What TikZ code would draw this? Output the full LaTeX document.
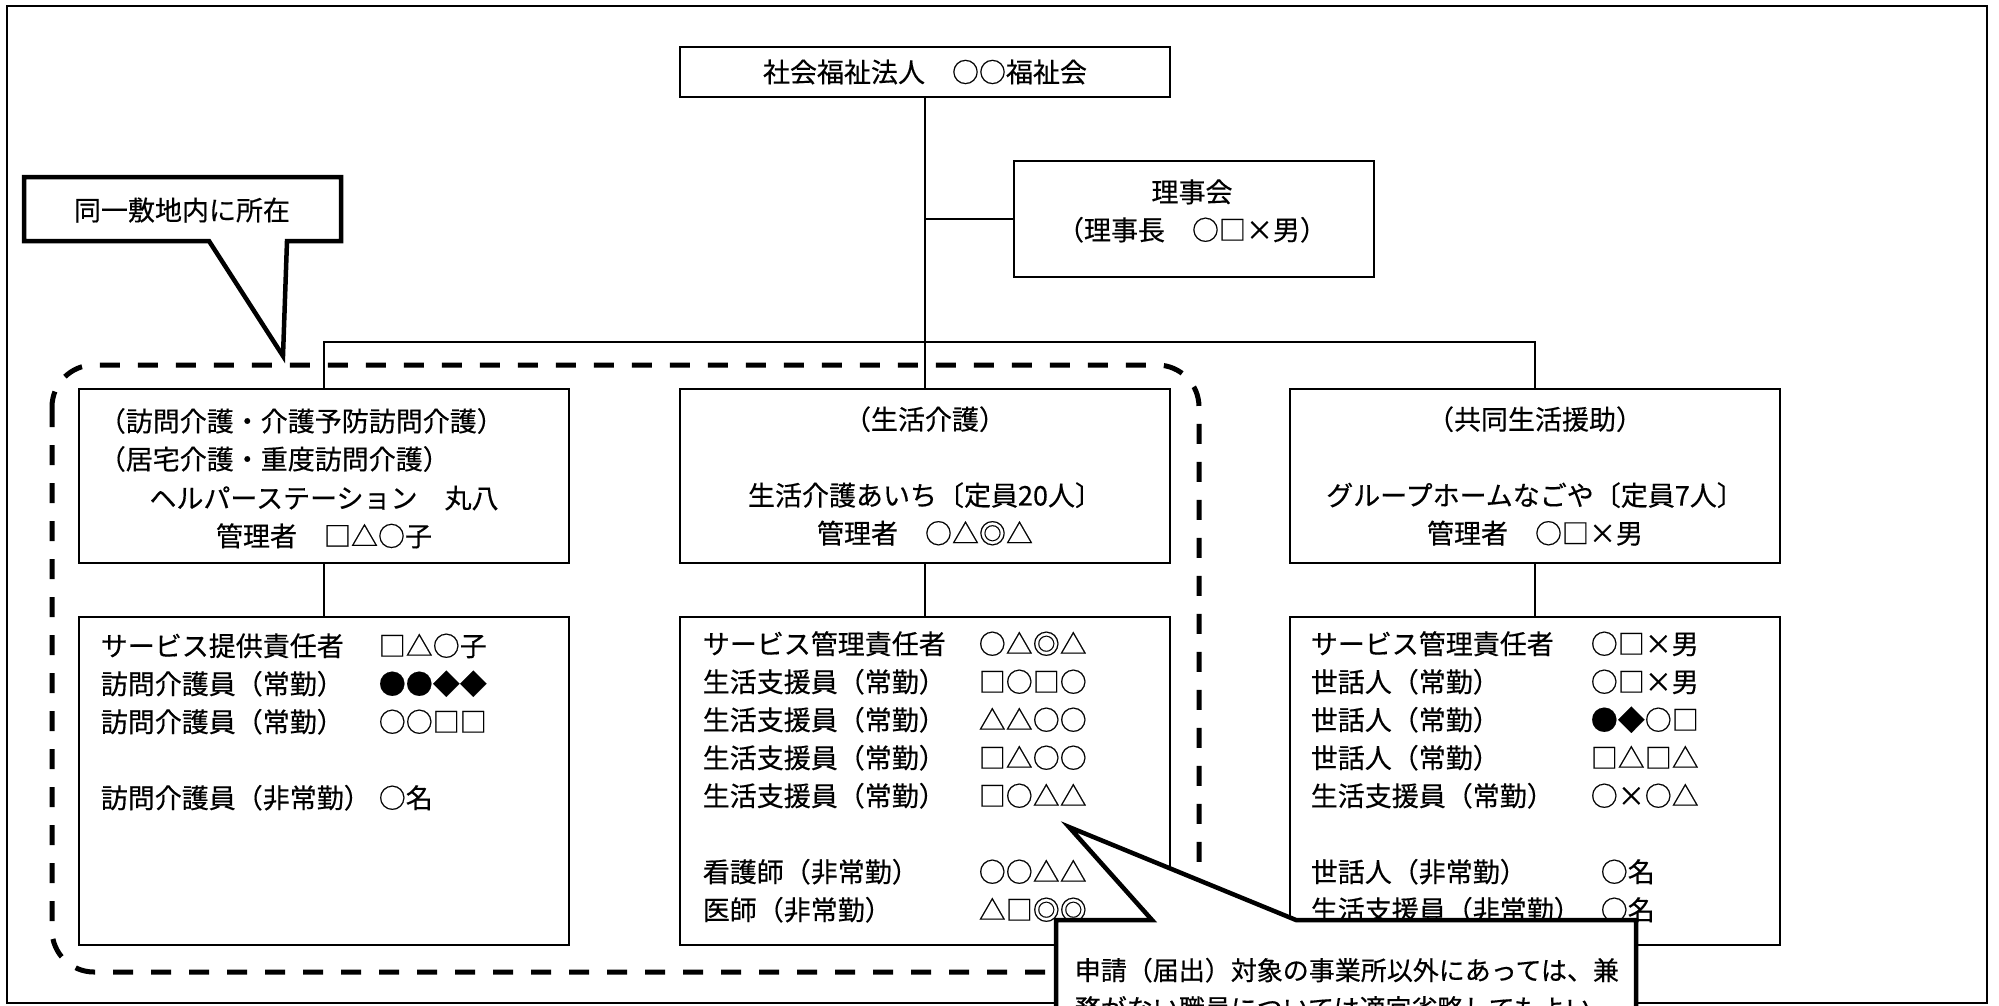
\documentclass[tikz,border=0pt]{standalone}
\usepackage{fontspec}
\setmainfont{Noto Sans CJK JP}[FakeBold=0.4]

\begin{document}
\begin{tikzpicture}[x=1pt, y=-1pt, line width=1.6pt,
	box/.style={rectangle, draw, minimum width=490pt, inner sep=0pt},
	txt/.style={inner sep=0pt, align=center, font=\fontsize{27}{38}\selectfont},
	list/.style={inner sep=0pt, anchor=base west, font=\fontsize{27}{38}\selectfont},
	site/.style={line width=5pt, dash pattern=on 20pt off 18pt, rounded corners=42pt},
	note/.style={draw, line width=4.5pt, fill=white, line join=miter}]
	\useasboundingbox (0,0) rectangle (1999,1005);
	\clip (0,0) rectangle (1999,1005);
	\fill[white] (0,0) rectangle (1999,1005);
	\draw[line width=2.5pt] (7,6) rectangle (1987,1003);

	\draw[site] (52,365) rectangle (1199,972);

	\node[box, minimum height=50pt, txt] at (925,72) (corp) {社会福祉法人　○○福祉会};
	\node[box, minimum width=360pt, minimum height=116pt] at (1194,219) (board) {};
	\node[txt] at (1192,211) (boardtext) {理事会\\（理事長　○□×男）};

	\node[box, minimum height=174pt] at (324,476) (hbox) {};
	\node[box, minimum height=174pt] at (925,476) (lbox) {};
	\node[box, minimum height=174pt] at (1535,476) (gbox) {};
	\node[box, minimum height=328pt] at (324,781) (hstaff) {};
	\node[box, minimum height=328pt] at (925,781) (lstaff) {};
	\node[box, minimum height=328pt] at (1535,781) (gstaff) {};

	\draw (corp) -- (lbox);
	\draw (board) -- (board -| corp);
	\draw (hbox.north) -- ++(0,-46) -| (gbox.north);
	\draw (hbox) -- (hstaff);
	\draw (lbox) -- (lstaff);
	\draw (gbox) -- (gstaff);

	\node[txt, align=left, anchor=west] at (98,440) (hkind) {（訪問介護・介護予防訪問介護）\\（居宅介護・重度訪問介護）};
	\node[txt] at (324,517) (hname) {ヘルパーステーション　丸八\\管理者　□△○子};
	\node[txt] at (925,476) (ltext) {（生活介護）\\[38pt]生活介護あいち〔定員20人〕\\管理者　○△◎△};
	\node[txt] at (1535,476) (gtext) {（共同生活援助）\\[38pt]グループホームなごや〔定員7人〕\\管理者　○□×男};

	\node[list] at (100,656) (hlist) {\begin{tabular}[t]{@{}l@{\hspace{8pt}}l@{}}
		サービス提供責任者 & □△○子\\
		訪問介護員（常勤） & ●●◆◆\\
		訪問介護員（常勤） & ○○□□\\[38pt]
		訪問介護員（非常勤） & ○名
	\end{tabular}};
	\node[list] at (702,654) (llist) {\begin{tabular}[t]{@{}l@{\hspace{33pt}}l@{}}
		サービス管理責任者 & ○△◎△\\
		生活支援員（常勤） & □○□○\\
		生活支援員（常勤） & △△○○\\
		生活支援員（常勤） & □△○○\\
		生活支援員（常勤） & □○△△\\[38pt]
		看護師（非常勤） & ○○△△\\
		医師（非常勤） & △□◎◎
	\end{tabular}};
	\node[list] at (1310,654) (glist) {\begin{tabular}[t]{@{}l@{\hspace{10pt}}l@{}}
		サービス管理責任者 & ○□×男\\
		世話人（常勤） & ○□×男\\
		世話人（常勤） & ●◆○□\\
		世話人（常勤） & □△□△\\
		生活支援員（常勤） & ○×○△\\[38pt]
		世話人（非常勤） & \hspace{10pt}○名\\
		生活支援員（非常勤） & \hspace{10pt}○名
	\end{tabular}};

	% callouts
	\draw[note] (24,177) -- (341,177) -- (341,241) -- (287,241) -- (283,356) -- (209,241) -- (24,241) -- cycle;
	\node[txt] at (182,210) (sitenote) {同一敷地内に所在};
	\draw[note] (1056,920) -- (1152,920) -- (1069,827) -- (1296,920) -- (1636,920) -- (1636,1060) -- (1056,1060) -- cycle;
	\node[txt, align=left, anchor=west, font=\fontsize{26}{38}\selectfont] at (1074,989) (omitnote) {申請（届出）対象の事業所以外にあっては、兼\\務がない職員については適宜省略してもよい。};
\end{tikzpicture}
\end{document}
